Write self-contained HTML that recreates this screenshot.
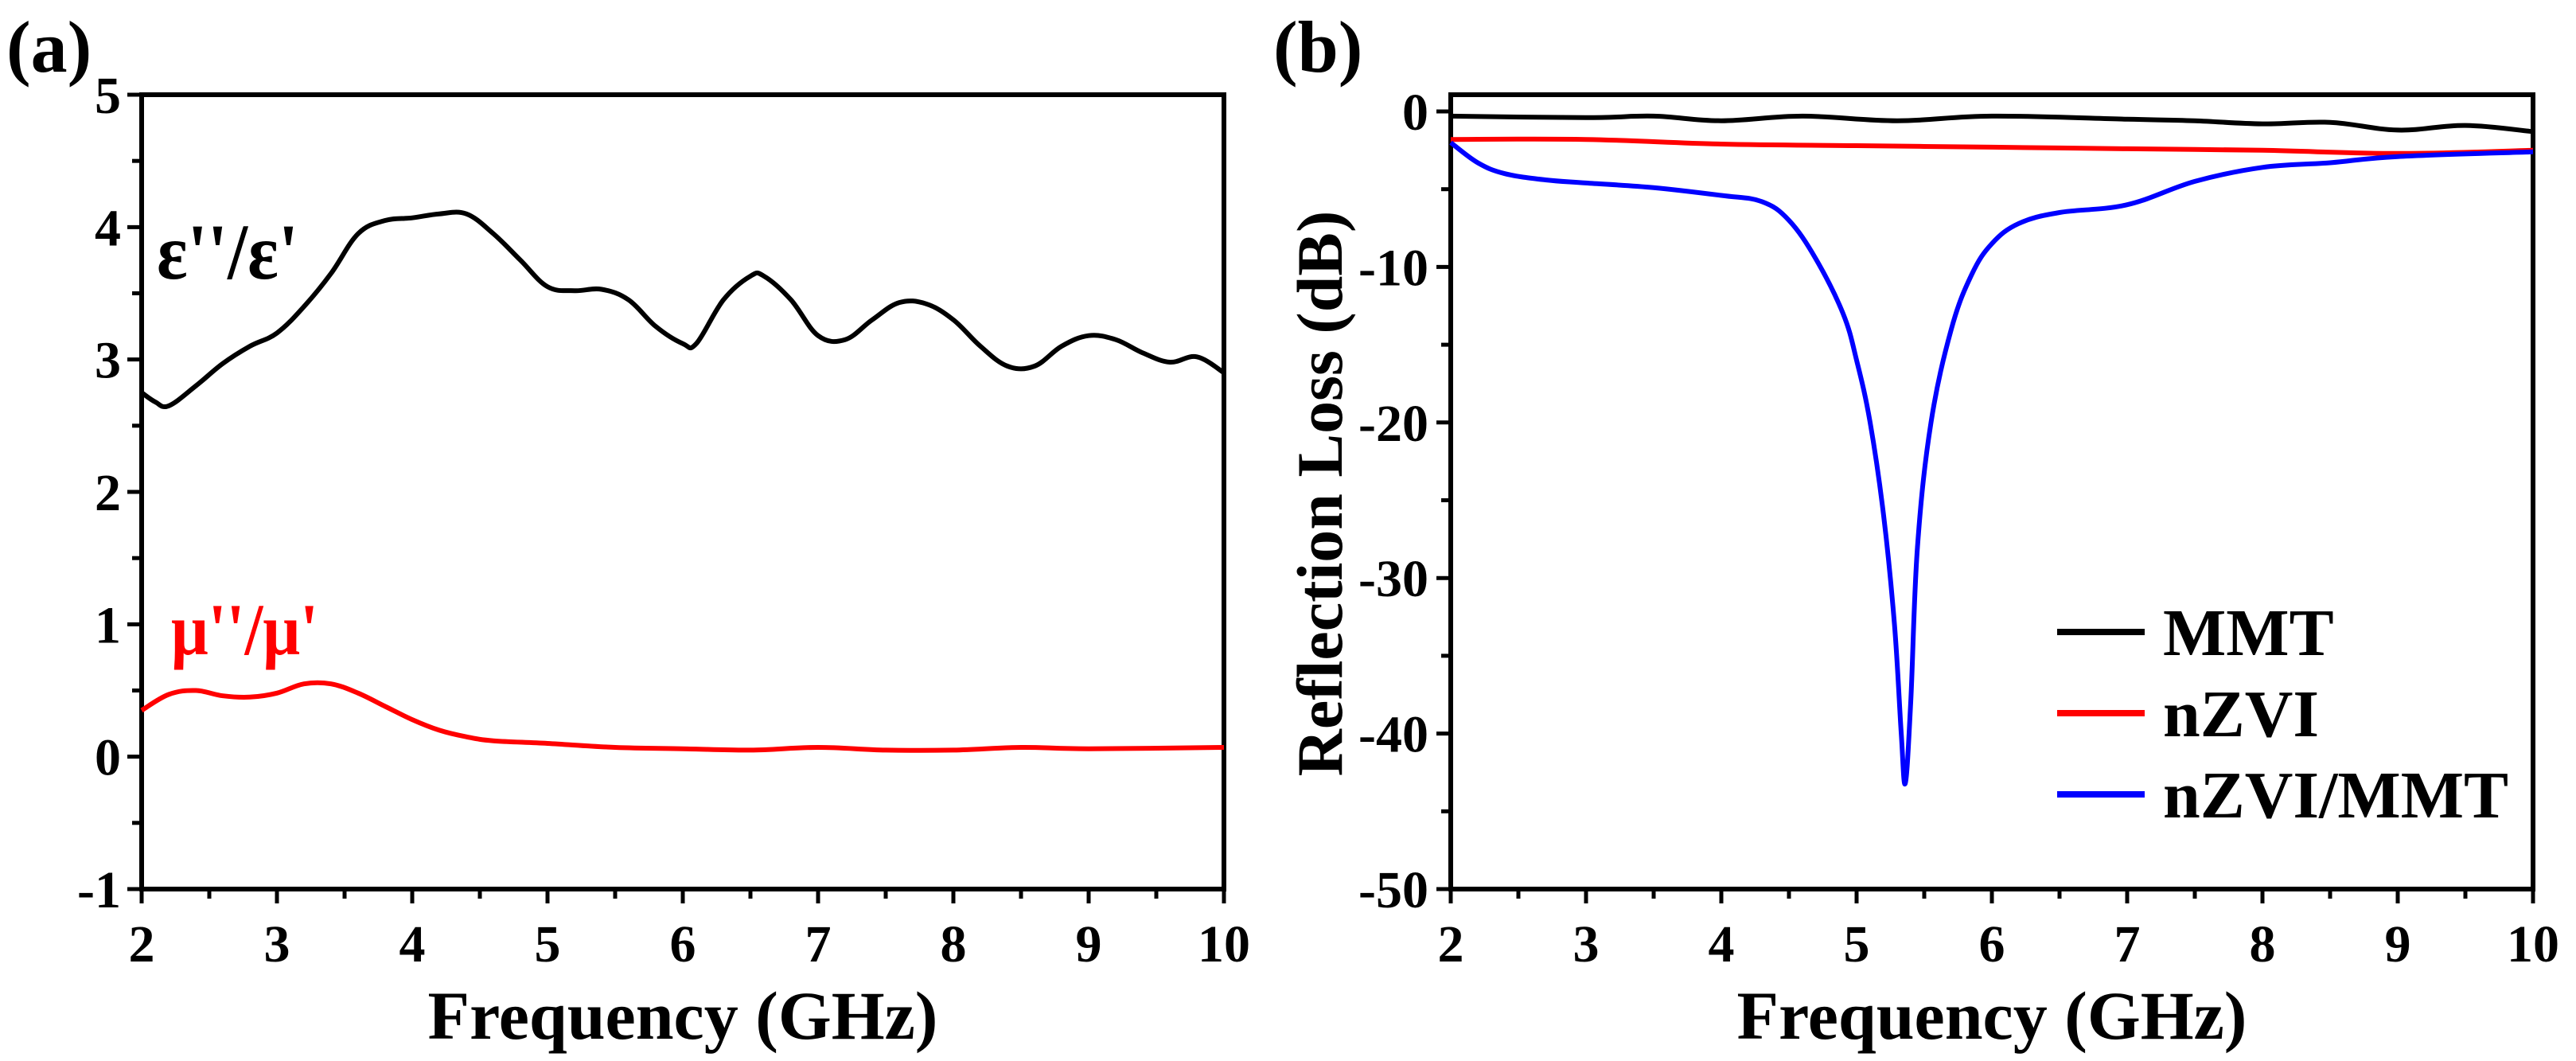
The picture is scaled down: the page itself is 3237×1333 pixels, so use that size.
<!DOCTYPE html>
<html><head><meta charset="utf-8"><style>
html,body{margin:0;padding:0;background:#fff}
svg text{font-family:"Liberation Serif",serif;font-weight:bold}
</style></head><body>
<svg id="chart" width="3237" height="1328" viewBox="0 0 3237 1328" xmlns="http://www.w3.org/2000/svg">
<g id="pa"></g>
<g id="pb"></g>
</svg>
<script>
const aEpsX=[2.0,2.1,2.2,2.4,2.6,2.8,3.0,3.2,3.4,3.6,3.8,4.0,4.2,4.4,4.6,4.8,5.0,5.2,5.4,5.6,5.8,6.0,6.1,6.3,6.5,6.6,6.8,7.0,7.2,7.4,7.6,7.8,8.0,8.2,8.4,8.6,8.8,9.0,9.2,9.4,9.6,9.8,10.0];
const aEpsY=[2.75,2.68,2.65,2.8,2.97,3.1,3.2,3.4,3.65,3.95,4.05,4.07,4.1,4.1,3.95,3.75,3.55,3.52,3.53,3.45,3.25,3.12,3.12,3.45,3.63,3.63,3.45,3.18,3.15,3.3,3.43,3.42,3.3,3.1,2.95,2.95,3.1,3.18,3.15,3.05,2.98,3.02,2.9];
const aMuX=[2.0,2.2,2.4,2.6,2.8,3.0,3.2,3.4,3.6,3.8,4.0,4.2,4.4,4.6,5.0,5.5,6.0,6.5,7.0,7.5,8.0,8.5,9.0,10.0];
const aMuY=[0.35,0.47,0.5,0.46,0.45,0.48,0.55,0.55,0.48,0.38,0.28,0.2,0.15,0.12,0.1,0.07,0.06,0.05,0.07,0.05,0.05,0.07,0.06,0.07];
const bMmtX=[2,3,3.5,4,4.6,5.3,6,7,7.5,8,8.5,9,9.5,10];
const bMmtY=[-0.3,-0.4,-0.3,-0.6,-0.3,-0.6,-0.3,-0.5,-0.6,-0.8,-0.7,-1.2,-0.9,-1.3];
const bZviX=[2,3,4,5,6,7,8,9,10];
const bZviY=[-1.8,-1.8,-2.1,-2.2,-2.3,-2.4,-2.5,-2.7,-2.5];
const bCompX=[2,2.2,2.4,2.7,3,3.5,4,4.3,4.5,4.7,4.9,5.0,5.1,5.2,5.28,5.33,5.36,5.4,5.45,5.55,5.7,5.85,6.0,6.2,6.5,7,7.5,8,8.5,9,10];
const bCompY=[-2.0,-3.3,-4.0,-4.4,-4.6,-4.9,-5.4,-5.8,-7,-9.5,-13,-16,-20,-26,-33,-40,-43.2,-38,-28,-20,-14,-10.5,-8.5,-7.2,-6.5,-6,-4.5,-3.6,-3.3,-2.9,-2.6];
const xTicks=[2,3,4,5,6,7,8,9,10];
const aYTicks=[-1,0,1,2,3,4,5];
const bYTicks=[0,-10,-20,-30,-40,-50];
const legendNames=["MMT","nZVI","nZVI/MMT"];

const NS="http://www.w3.org/2000/svg";
function el(p,tag,at,txt){const e=document.createElementNS(NS,tag);for(const k in at)e.setAttribute(k,at[k]);if(txt!==undefined)e.textContent=txt;p.appendChild(e);return e;}
function pathOf(xs,ys,sx,sy){
  const P=xs.map((x,i)=>[sx(x),sy(ys[i])]);
  let d='M'+P[0][0].toFixed(1)+','+P[0][1].toFixed(1);
  for(let i=0;i<P.length-1;i++){
    const p0=P[Math.max(0,i-1)],p1=P[i],p2=P[i+1],p3=P[Math.min(P.length-1,i+2)];
    const t=0.18;
    const c1=[p1[0]+(p2[0]-p0[0])*t,p1[1]+(p2[1]-p0[1])*t];
    const c2=[p2[0]-(p3[0]-p1[0])*t,p2[1]-(p3[1]-p1[1])*t];
    d+=' C'+c1[0].toFixed(1)+','+c1[1].toFixed(1)+' '+c2[0].toFixed(1)+','+c2[1].toFixed(1)+' '+p2[0].toFixed(1)+','+p2[1].toFixed(1);
  }
  return d;}

// Panel A
const pa=document.getElementById('pa');
const aL=178,aR=1538,aT=119,aB=1117;
const axA=x=>aL+(x-2)/8*(aR-aL);
const ayA=y=>aB-(y+1)/6*(aB-aT);
let f=el(pa,'rect',{x:aL,y:aT,width:aR-aL,height:aB-aT,fill:'none',stroke:'#000','stroke-width':6});

for(let v=2;v<=10.001;v+=0.5){const t=el(pa,'line',{x1:axA(v),x2:axA(v),y1:aB,y2:aB+(v%1===0?18:12),stroke:'#000','stroke-width':5});}
for(let v=-1;v<=5.001;v+=0.5){const t=el(pa,'line',{x1:aL-(v%1===0?18:12),x2:aL,y1:ayA(v),y2:ayA(v),stroke:'#000','stroke-width':5});}
xTicks.forEach(v=>{const t=el(pa,'text',{x:axA(v),y:1208,'font-size':66,'text-anchor':'middle'},v);});
aYTicks.forEach(v=>{const t=el(pa,'text',{x:aL-26,y:ayA(v)+23,'font-size':66,'text-anchor':'end'},v);});
let t=el(pa,'text',{x:(aL+aR)/2,y:1305,'font-size':86,'text-anchor':'middle'},'Frequency (GHz)');
t=el(pa,'text',{x:8,y:90,'font-size':92},'(a)');
let p=el(pa,'path',{d:pathOf(aEpsX,aEpsY,axA,ayA),fill:'none',stroke:'#000','stroke-width':6,'stroke-linejoin':'round'});
p=el(pa,'path',{d:pathOf(aMuX,aMuY,axA,ayA),fill:'none',stroke:'#f00','stroke-width':6,'stroke-linejoin':'round'});
t=el(pa,'text',{x:197,y:350,'font-size':100,'font-family':'"Liberation Sans",sans-serif',textLength:178,lengthAdjust:'spacingAndGlyphs'},"ε''/ε'");
t=el(pa,'text',{x:215,y:822,'font-size':92,fill:'#f00','font-family':'"Liberation Sans",sans-serif',textLength:185,lengthAdjust:'spacingAndGlyphs'},"μ''/μ'");

// Panel B
const pb=document.getElementById('pb');
const bL=1823,bR=3183,bT=119,bB=1117;
const axB=x=>bL+(x-2)/8*(bR-bL);
const ayB=y=>140+(0-y)/50*(bB-140);
f=el(pb,'rect',{x:bL,y:bT,width:bR-bL,height:bB-bT,fill:'none',stroke:'#000','stroke-width':6});

for(let v=2;v<=10.001;v+=0.5){const q=el(pb,'line',{x1:axB(v),x2:axB(v),y1:bB,y2:bB+(v%1===0?18:12),stroke:'#000','stroke-width':5});}
for(let v=0;v>=-50;v-=5){const q=el(pb,'line',{x1:bL-(v%10===0?18:12),x2:bL,y1:ayB(v),y2:ayB(v),stroke:'#000','stroke-width':5});}
xTicks.forEach(v=>{const q=el(pb,'text',{x:axB(v),y:1208,'font-size':66,'text-anchor':'middle'},v);});
bYTicks.forEach(v=>{const q=el(pb,'text',{x:bL-28,y:ayB(v)+23,'font-size':66,'text-anchor':'end'},v);});
t=el(pb,'text',{x:(bL+bR)/2,y:1305,'font-size':86,'text-anchor':'middle'},'Frequency (GHz)');
t=el(pb,'text',{x:0,y:0,'font-size':82,'text-anchor':'middle',transform:'translate(1686,620) rotate(-90)'},'Reflection Loss (dB)');
t=el(pb,'text',{x:1600,y:90,'font-size':92},'(b)');
const series=[[bMmtX,bMmtY,'#000','mmt-line'],[bZviX,bZviY,'#f00','nzvi-line'],[bCompX,bCompY,'#00f','nzvi-mmt-line']];
series.forEach(s=>{const q=el(pb,'path',{d:pathOf(s[0],s[1],axB,ayB),fill:'none',stroke:s[2],'stroke-width':6,'stroke-linejoin':'round'});});
const lg=el(pb,'g',{});
legendNames.forEach((n,i)=>{const y=794+i*102;
 const l=el(lg,'line',{x1:2585,x2:2695,y1:y,y2:y,stroke:series[i][2],'stroke-width':8});
 const q=el(lg,'text',{x:2718,y:y+29,'font-size':84},n);});
</script>
</body></html>
